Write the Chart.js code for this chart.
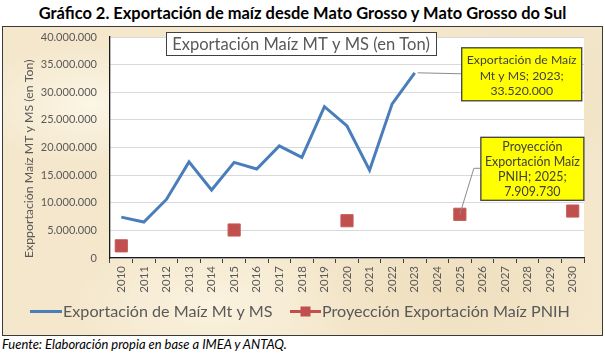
<!DOCTYPE html>
<html><head><meta charset="utf-8">
<script src="https://cdn.jsdelivr.net/npm/chart.js@4/dist/chart.umd.min.js"></script>
<style>
html,body{margin:0;padding:0;background:#fff;width:605px;height:355px;overflow:hidden;}
#heading{position:absolute;left:0;top:2px;width:605px;text-align:center;font-family:Lato;font-weight:bold;font-size:18px;line-height:22px;white-space:nowrap;color:#000;}
#frame{position:absolute;left:2px;top:26px;width:599px;height:308px;border:1px solid #3a3a3a;
background:
 radial-gradient(ellipse 120px 60px at 15% 25%, rgba(255,252,240,0.7), rgba(255,252,240,0) 100%),
 radial-gradient(ellipse 160px 80px at 75% 85%, rgba(232,212,172,0.45), rgba(232,212,172,0) 100%),
 radial-gradient(ellipse 140px 90px at 90% 20%, rgba(236,218,182,0.45), rgba(236,218,182,0) 100%),
 radial-gradient(ellipse 140px 70px at 35% 90%, rgba(255,250,236,0.6), rgba(255,250,236,0) 100%),
 #f4e7cc;}
#c{position:absolute;left:0;top:0;}
#foot{position:absolute;left:2px;top:337px;font-family:Lato;font-style:italic;font-size:11px;line-height:14px;white-space:nowrap;color:#000;}
</style></head>
<body>
<div id="heading"><span id="hs">Gráfico 2. Exportación de maíz desde Mato Grosso y Mato Grosso do Sul</span></div>
<div id="frame"></div>
<canvas id="c" width="605" height="336" style="width:605px;height:336px"></canvas>
<div id="foot"><span id="fs">Fuente: Elaboración propia en base a IMEA y ANTAQ.</span></div>
<script>
// ---- data ----
const years = ['2010','2011','2012','2013','2014','2015','2016','2017','2018','2019','2020','2021','2022','2023','2024','2025','2026','2027','2028','2029','2030'];
const exportacionMtMs = [7400000, 6500000, 10600000, 17400000, 12300000, 17300000, 16100000, 20300000, 18200000, 27400000, 23900000, 15900000, 27900000, 33520000, null, null, null, null, null, null, null];
const proyeccionPnih = [2200000, null, null, null, null, 5070000, null, null, null, null, 6750000, null, null, null, null, 7909730, null, null, null, null, 8500000];
const seriesNames = ['Exportación de Maíz Mt y MS', 'Proyección Exportación Maíz PNIH'];
const chartTitle = 'Exportación Maíz MT y MS (en Ton)';
const yAxisTitle = 'Expportación Maíz MT y MS (en Ton)';
const note1 = ['Exportación de Maíz', 'Mt y MS; 2023;', '33.520.000'];
const note2 = ['Proyección', 'Exportación Maíz', 'PNIH; 2025;', '7.909.730'];

function fitSpan(id, target) {
  const el = document.getElementById(id);
  const w = el.getBoundingClientRect().width;
  const fs = parseFloat(getComputedStyle(el.parentNode).fontSize);
  el.parentNode.style.fontSize = (fs * target / w) + 'px';
}
fitSpan('hs', 528);
fitSpan('fs', 285);

const fmt = v => String(Math.round(v)).replace(/\B(?=(\d{3})+(?!\d))/g, '.');
const BLUE = '#4a7ebb', RED = '#c0504d', GREY = '#595959';

function fitFont(ctx, text, target, style) {
  ctx.font = style + ' 20px Lato';
  return 20 * target / ctx.measureText(text).width;
}

const decor = {
  id: 'decor',
  beforeDraw(chart) {
    const {ctx, chartArea: a} = chart;
    ctx.save(); ctx.fillStyle = '#fff';
    ctx.fillRect(a.left, a.top, a.right - a.left, a.bottom - a.top);
    ctx.restore();
  },
  afterDatasetsDraw(chart) {
    const ctx = chart.ctx;
    const p1 = chart.getDatasetMeta(0).data[13];
    const p2 = chart.getDatasetMeta(1).data[15];
    ctx.save();
    ctx.strokeStyle = '#8c8c8c'; ctx.lineWidth = 1;
    const b1 = {x: p1.x + 47, y: p1.y - 25, w: 120, h: 53};
    const b2 = {x: p2.x + 21, y: p2.y - 77, w: 103, h: 63};
    ctx.beginPath(); ctx.moveTo(p1.x + 3, p1.y); ctx.lineTo(b1.x, p1.y + 1); ctx.stroke();
    ctx.beginPath(); ctx.moveTo(p2.x, p2.y); ctx.lineTo(p2.x + 14, p2.y - 46); ctx.lineTo(b2.x, p2.y - 46); ctx.stroke();
    const fs1 = fitFont(ctx, note1[0], 110, '');
    const fs2 = fitFont(ctx, note2[1], 95, '');
    [[b1, note1, fs1, 12.7, 15.2], [b2, note2, fs2, 10, 15]].forEach(([b, lines, fs, off, lh]) => {
      ctx.fillStyle = '#ffff00'; ctx.fillRect(b.x, b.y, b.w, b.h);
      ctx.strokeStyle = '#3f3f3f'; ctx.lineWidth = 1.3; ctx.strokeRect(b.x, b.y, b.w, b.h);
      ctx.fillStyle = '#404040'; ctx.font = fs + 'px Lato';
      ctx.textAlign = 'center'; ctx.textBaseline = 'middle';
      lines.forEach((t, i) => ctx.fillText(t, b.x + b.w / 2, b.y + off + i * lh));
    });
    ctx.restore();
  },
  afterDraw(chart) {
    const ctx = chart.ctx;
    ctx.save();
    ctx.fillStyle = '#fff'; ctx.fillRect(166, 32, 270, 23);
    ctx.strokeStyle = '#404040'; ctx.lineWidth = 1; ctx.strokeRect(166.5, 32.5, 270, 23);
    const tfs = fitFont(ctx, chartTitle, 258, '');
    ctx.font = tfs + 'px Lato'; ctx.fillStyle = GREY;
    ctx.textAlign = 'center'; ctx.textBaseline = 'middle';
    ctx.fillText(chartTitle, 301, 44.5);
    const lfs = fitFont(ctx, seriesNames[1], 248, '');
    const ly = 311.5;
    ctx.lineWidth = 3;
    ctx.strokeStyle = BLUE; ctx.beginPath(); ctx.moveTo(30, ly); ctx.lineTo(62, ly); ctx.stroke();
    ctx.strokeStyle = RED; ctx.beginPath(); ctx.moveTo(290, ly); ctx.lineTo(321, ly); ctx.stroke();
    ctx.fillStyle = RED; ctx.fillRect(300.5, ly - 5, 10, 10);
    ctx.font = lfs + 'px Lato'; ctx.fillStyle = GREY; ctx.textAlign = 'left';
    ctx.fillText(seriesNames[0], 63, ly);
    ctx.fillText(seriesNames[1], 322, ly);
    ctx.restore();
  }
};

new Chart(document.getElementById('c'), {
  type: 'line',
  data: {
    labels: years,
    datasets: [
      {label: seriesNames[0], data: exportacionMtMs, borderColor: BLUE, backgroundColor: BLUE, borderWidth: 3, pointRadius: 0, tension: 0, spanGaps: false},
      {label: seriesNames[1], data: proyeccionPnih, showLine: false, pointStyle: 'rect', pointRadius: 8.6, backgroundColor: RED, borderColor: '#c65a57', borderWidth: 1}
    ]
  },
  options: {
    responsive: false, animation: false,
    layout: {padding: {left: 0, right: 21, top: 37, bottom: 38}},
    plugins: {legend: {display: false}, tooltip: {enabled: false}},
    scales: {
      x: {
        offset: true,
        grid: {display: true, offset: true, drawOnChartArea: false, drawTicks: true, tickLength: 5, color: '#404040'},
        border: {color: '#1a1a1a', width: 1.3},
        ticks: {minRotation: 90, maxRotation: 90, autoSkip: false, padding: 3, color: GREY, font: {family: 'Lato', size: 11.5}},
        afterFit: s => { s.height = 40; }
      },
      y: {
        min: 0, max: 40000000,
        grid: {color: '#d9d9d9', drawTicks: false},
        border: {color: '#1a1a1a', width: 1.3},
        ticks: {stepSize: 5000000, padding: 13, color: GREY, font: {family: 'Lato', size: 11}, callback: v => fmt(v)},
        title: {display: true, text: yAxisTitle, align: 'start', color: GREY, font: {family: 'Lato', size: 12.3}, padding: {top: 22, bottom: 0}},
        afterFit: s => { s.width = 110; }
      }
    }
  },
  plugins: [decor]
});
</script>
</body></html>
